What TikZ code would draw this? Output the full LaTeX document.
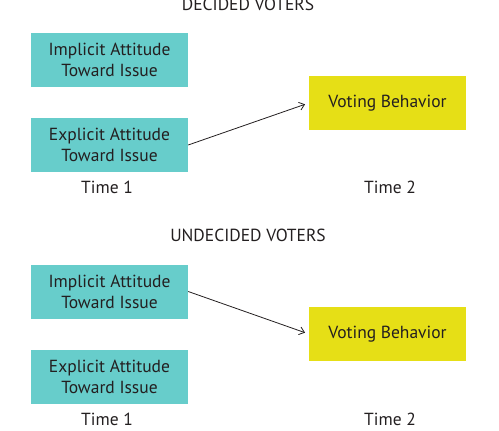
\documentclass[tikz,border=0pt]{standalone}
\usepackage{fontspec}
\setmainfont{PT Sans}
\usetikzlibrary{arrows.meta}
\definecolor{teal1}{HTML}{67CDCB}
\definecolor{yell1}{HTML}{E6DF16}
\definecolor{txt}{HTML}{231F20}
\begin{document}
\begin{tikzpicture}[x=1pt,y=-1pt,
  font=\fontsize{17.5}{21}\selectfont, text=txt,
  attbox/.style={fill=teal1, minimum width=157pt, minimum height=54pt, inner sep=0pt, align=center},
  votebox/.style={fill=yell1, minimum width=157pt, minimum height=54pt, inner sep=0pt, align=center},
  lbl/.style={inner sep=0pt},
  conn/.style={draw=txt, line width=0.8pt, -{Straight Barb[length=5pt,width=8pt]}, shorten >=4pt}]
\useasboundingbox (0,0) rectangle (499,431);
% Decided
\node[lbl] (t1) at (248,4) {DECIDED VOTERS};
\node[attbox] (i1) at (109.5,60) {Implicit Attitude\\Toward Issue};
\node[attbox] (e1) at (109.5,145) {Explicit Attitude\\Toward Issue};
\node[votebox] (v1) at (387.5,103) {Voting Behavior};
\node[lbl] (a1) at (107,187) {Time 1};
\node[lbl] (b1) at (390,187) {Time 2};
\draw[conn] (e1.east) -- (v1.west);
% Undecided
\node[lbl] (t2) at (248,235) {UNDECIDED VOTERS};
\node[attbox] (i2) at (109.5,291.5) {Implicit Attitude\\Toward Issue};
\node[attbox] (e2) at (109.5,377) {Explicit Attitude\\Toward Issue};
\node[votebox] (v2) at (387.5,334) {Voting Behavior};
\node[lbl] (a2) at (107,419) {Time 1};
\node[lbl] (b2) at (390,419) {Time 2};
\draw[conn] (i2.east) -- (v2.west);
\end{tikzpicture}
\end{document}
